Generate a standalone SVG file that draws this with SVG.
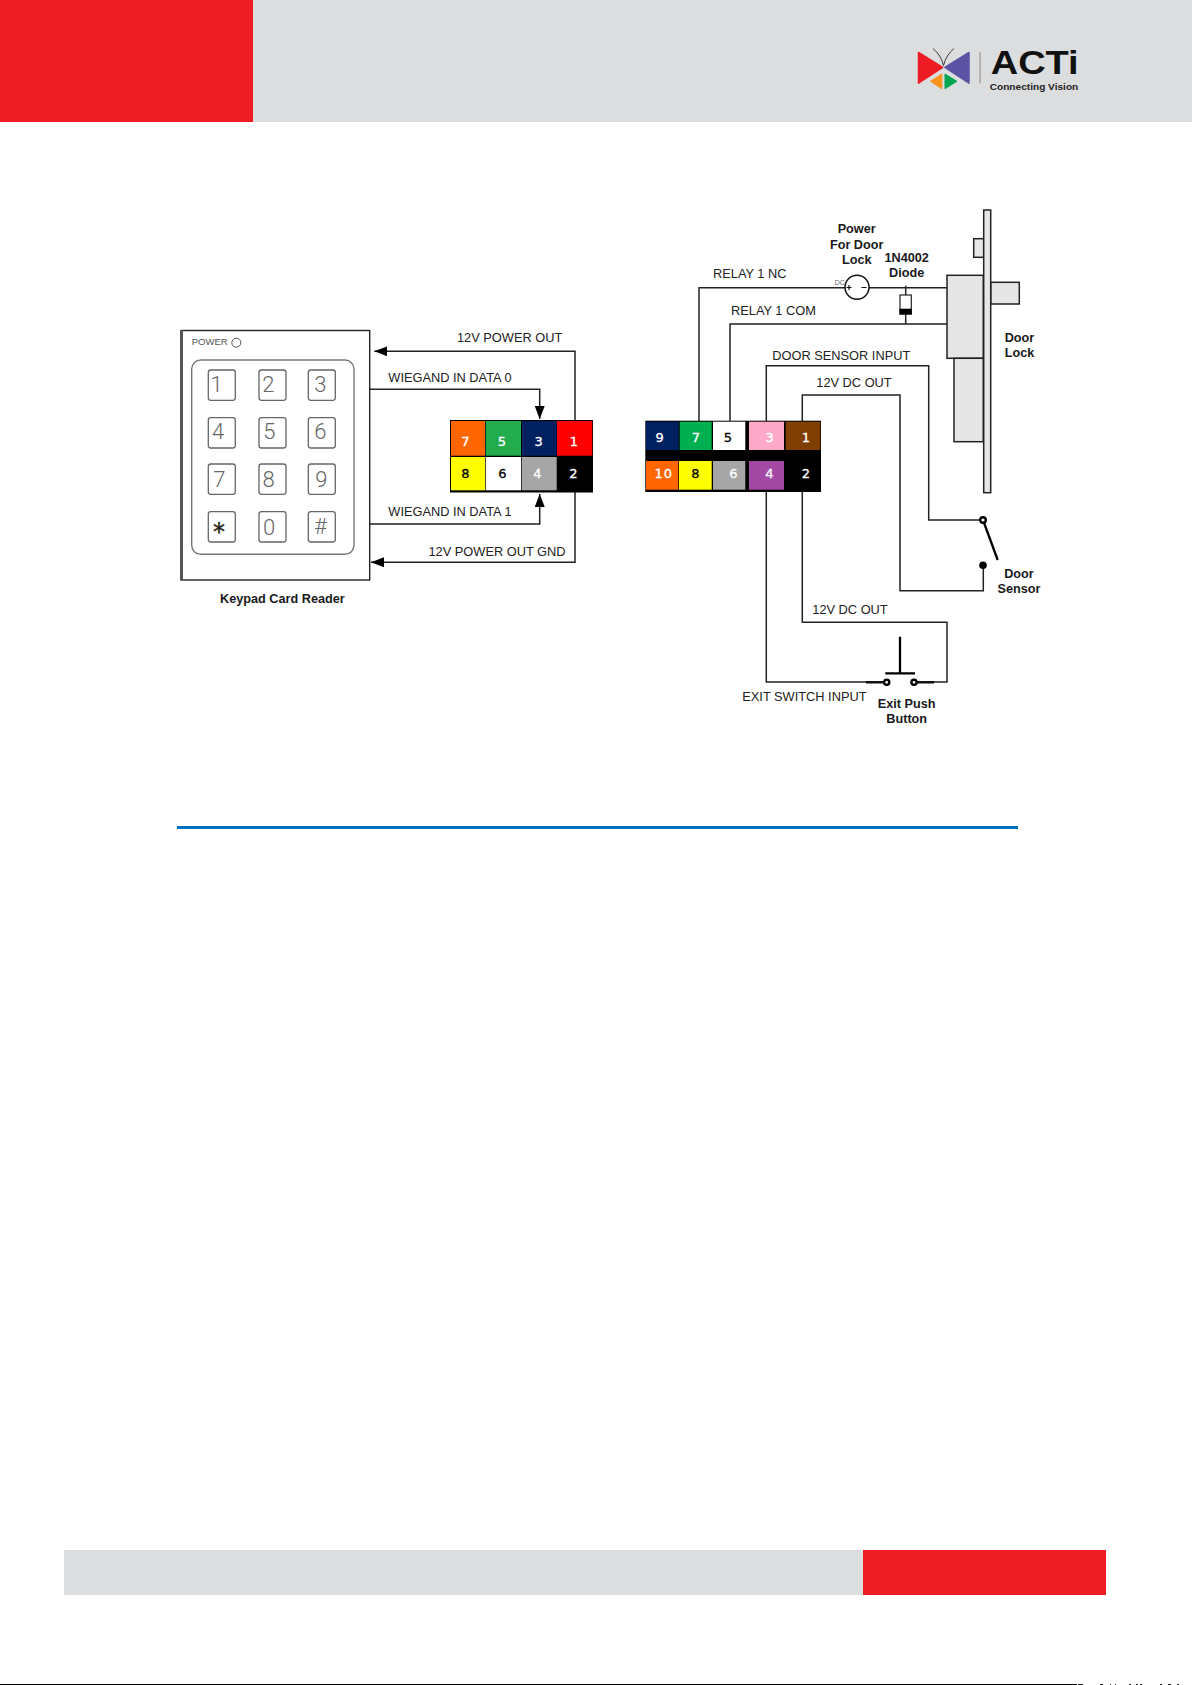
<svg xmlns="http://www.w3.org/2000/svg" width="1192" height="1685" viewBox="0 0 1192 1685">
<style>
text{font-family:"Liberation Sans",Arial,sans-serif;fill:#1a1a1a}
.l{font-size:12.8px;fill:#222}
.b{font-size:12.7px;font-weight:bold;text-anchor:middle}
.bl{font-size:12.7px;font-weight:bold}
.n{font-family:"DejaVu Sans",sans-serif;font-size:13px;text-anchor:middle;stroke-width:.3}
.nw{fill:#fff;stroke:#fff}
.nk{fill:#000;stroke:#000}
.k{font-family:Roboto,"Liberation Sans",sans-serif;font-weight:300;font-size:22px;fill:#666;text-anchor:middle}
.key{fill:#fff;stroke:#666;stroke-width:1.3}
.w{fill:none;stroke:#222;stroke-width:1.5}
.t{fill:none;stroke:#111;stroke-width:2.4}
.lock{fill:#e6e6e6;stroke:#222;stroke-width:1.5}
.term{fill:#fff;stroke:#000;stroke-width:2.4}
</style>
<defs>
<marker id="arrow" markerUnits="userSpaceOnUse" markerWidth="14" markerHeight="10" refX="13" refY="5" orient="auto"><path d="M0 0L13 5L0 10Z" fill="#000"/></marker>
</defs>

<g id="page-header">
<rect x="0" y="0" width="1192" height="122" fill="#dcddde"/>
<rect x="0" y="0" width="253" height="122" fill="#ee1c25"/>
</g>
<g id="logo">
<path d="M918.5 52.5L942.7 67.3L918.5 83.2Z" fill="#ed1c24" stroke="#ed1c24" stroke-width="1.5" stroke-linejoin="round"/>
<path d="M969 52.5L944.9 67.3L969 83.2Z" fill="#5b52a3" stroke="#5b52a3" stroke-width="1.5" stroke-linejoin="round"/>
<path d="M941.8 74L930.5 81.3L941.8 88.8Z" fill="#f7941e" stroke="#f7941e" stroke-width="1" stroke-linejoin="round"/>
<path d="M945 74L956.8 81.3L945 88.8Z" fill="#00a651" stroke="#00a651" stroke-width="1" stroke-linejoin="round"/>
<path d="M933 48.5Q941 55 943.5 65.5Q946 55 954 48.5" fill="none" stroke="#111" stroke-width=".8"/>
<rect x="979.6" y="52.3" width="1" height="31" fill="#8a8a8a"/>
<text x="990.7" y="74.3" font-size="32.5" font-weight="bold" textLength="88" lengthAdjust="spacingAndGlyphs" style="fill:#111">ACTi</text>
<text x="989.7" y="89.8" font-size="9.5" font-weight="bold" textLength="88.6" lengthAdjust="spacingAndGlyphs" style="fill:#222">Connecting Vision</text>
</g>

<g id="connectors">
<path class="w" d="M575 420V351.3H374.3" marker-end="url(#arrow)"/>
<path class="w" d="M369.7 389.3H539.7V419" marker-end="url(#arrow)"/>
<path class="w" d="M369.7 524H539.7V494" marker-end="url(#arrow)"/>
<path class="w" d="M575 492V562.3H371" marker-end="url(#arrow)"/>
<path class="w" d="M699 421V287.7H947"/>
<path class="w" d="M730 421V324H947"/>
<path class="w" d="M905.7 285.7V324"/>
<path class="w" d="M766.3 421V365.7H928.7V520H983"/>
<path class="w" d="M802.3 421V395H900V590.7H983.3V565"/>
<path class="w" d="M766.3 491V682H868"/>
<path class="w" d="M802.3 491V622.3H947V682H932"/>
<path class="t" d="M866 682.3H884M916 682.3H934"/>
</g>

<g id="keypad">
<rect x="181" y="330.5" width="188.7" height="249.5" fill="#fff" stroke="#222" stroke-width="1.4"/>
<rect x="180" y="330" width="3" height="250" fill="#555"/>
<text x="191.7" y="345.2" font-size="9.5" style="fill:#555">POWER</text>
<circle cx="236.3" cy="342.7" r="4.5" fill="#fff" stroke="#555" stroke-width="1"/>
<rect x="191.7" y="360" width="162.3" height="194.3" rx="9" fill="#fff" stroke="#777" stroke-width="1.4"/>
<rect class="key" x="208.3" y="370" width="27" height="30.3" rx="2.5"/><text class="k" x="216.7" y="391.7">1</text>
<rect class="key" x="259" y="370" width="27" height="30.3" rx="2.5"/><text class="k" x="268.3" y="391.7">2</text>
<rect class="key" x="308.3" y="370" width="27" height="30.3" rx="2.5"/><text class="k" x="320.3" y="391.7">3</text>
<rect class="key" x="208.3" y="417.7" width="27" height="30.3" rx="2.5"/><text class="k" x="218" y="439.3">4</text>
<rect class="key" x="259" y="417.7" width="27" height="30.3" rx="2.5"/><text class="k" x="269.3" y="439.3">5</text>
<rect class="key" x="308.3" y="417.7" width="27" height="30.3" rx="2.5"/><text class="k" x="320.3" y="439.3">6</text>
<rect class="key" x="208.3" y="464" width="27" height="30.3" rx="2.5"/><text class="k" x="219.3" y="486.7">7</text>
<rect class="key" x="259" y="464" width="27" height="30.3" rx="2.5"/><text class="k" x="268.7" y="486.7">8</text>
<rect class="key" x="308.3" y="464" width="27" height="30.3" rx="2.5"/><text class="k" x="321.3" y="486.7">9</text>
<rect class="key" x="208.3" y="511.7" width="27" height="30.3" rx="2.5"/><text x="219" y="540" font-size="24" text-anchor="middle" style="font-family:'DejaVu Sans',sans-serif;fill:#222;stroke:#222;stroke-width:.4">*</text>
<rect class="key" x="259" y="511.7" width="27" height="30.3" rx="2.5"/><text class="k" x="269" y="535.3">0</text>
<rect class="key" x="308.3" y="511.7" width="27" height="30.3" rx="2.5"/><text class="k" x="320.3" y="534" style="font-size:22px">#</text>
<text class="bl" x="220" y="602.7">Keypad Card Reader</text>
</g>

<g id="connector-left">
<rect x="450" y="420" width="143" height="72.5" fill="#000"/>
<rect x="451" y="421" width="34" height="34.7" fill="#ff6600"/><text class="n nw" x="465.3" y="446">7</text>
<rect x="485.7" y="421" width="35.3" height="34.7" fill="#22ac4e"/><text class="n nw" x="502" y="446">5</text>
<rect x="521.7" y="421" width="35" height="34.7" fill="#002060"/><text class="n nw" x="538.7" y="446">3</text>
<rect x="557" y="421" width="35.3" height="34.7" fill="#ff0000"/><text class="n nw" x="574" y="446">1</text>
<rect x="451" y="457" width="34" height="33.3" fill="#ffff00"/><text class="n nk" x="465.3" y="478">8</text>
<rect x="485.7" y="457" width="35.3" height="33.3" fill="#fff"/><text class="n nk" x="502.5" y="478">6</text>
<rect x="521.7" y="457" width="35" height="33.3" fill="#a6a6a6"/><text class="n nw" x="537.3" y="478">4</text>
<text class="n nw" x="573.5" y="478">2</text>
</g>

<g id="connector-right">
<rect x="645.3" y="420.7" width="175.7" height="71.3" fill="#000"/>
<rect x="646" y="421.7" width="32.7" height="28.3" fill="#002060"/><text class="n nw" x="659.7" y="441.7">9</text>
<rect x="679.7" y="421.7" width="32" height="28.3" fill="#00b050"/><text class="n nw" x="696" y="441.7">7</text>
<rect x="713" y="421.7" width="32.3" height="28.3" fill="#fff"/><text class="n nk" x="728" y="441.7">5</text>
<rect x="749" y="421.7" width="35" height="28.3" fill="#ffa9c8"/><text class="n nw" x="769.7" y="441.7">3</text>
<rect x="785.7" y="421.7" width="34.6" height="28.3" fill="#7f3f00"/><text class="n nw" x="806" y="441.7">1</text>
<rect x="646" y="461" width="32.3" height="28.7" fill="#ff6600"/><text class="n nw" x="663.7" y="478.3" style="letter-spacing:1px">10</text>
<rect x="679" y="461" width="32.7" height="28.7" fill="#ffff00"/><text class="n nk" x="695.3" y="478.3">8</text>
<rect x="713" y="461" width="32.3" height="28.7" fill="#a6a6a6"/><text class="n nw" x="733.3" y="478.3">6</text>
<rect x="749" y="461" width="35" height="28.7" fill="#a349a4"/><text class="n nw" x="769.3" y="478.3">4</text>
<text class="n nw" x="806" y="478.3">2</text>
</g>

<g id="power-supply">
<circle cx="857" cy="287.3" r="12" fill="#fff" stroke="#111" stroke-width="1.5"/>
<path d="M846.5 287.5h5M849 285v5M861.5 287.5h5" stroke="#111" stroke-width="1.2" fill="none"/>
<text x="834.7" y="284.7" font-size="7" style="fill:#666">DC</text>
<text class="b" x="856.7" y="233.3">Power</text>
<text class="b" x="856.7" y="248.7">For Door</text>
<text class="b" x="856.7" y="264">Lock</text>
</g>

<g id="diode">
<rect x="900" y="295" width="11.3" height="19" fill="#fff" stroke="#222" stroke-width="1.2"/>
<rect x="899.5" y="308.7" width="12.3" height="5.8" fill="#000"/>
<text class="b" x="906.7" y="262">1N4002</text>
<text class="b" x="906.7" y="277.3">Diode</text>
</g>

<g id="door-lock">
<rect class="lock" x="973.7" y="238.7" width="10" height="18.6"/>
<rect class="lock" x="990.7" y="282.3" width="28.6" height="21.7"/>
<rect class="lock" x="947" y="275.3" width="36.3" height="83"/>
<rect class="lock" x="954" y="358.3" width="29.3" height="83.4"/>
<rect class="lock" x="983.7" y="210" width="7" height="282.7"/>
<text class="bl" x="1004.7" y="342">Door</text>
<text class="bl" x="1004.7" y="357.3">Lock</text>
</g>

<g id="door-sensor">
<path d="M983 520L997.7 560" stroke="#000" stroke-width="2.3" fill="none"/>
<circle class="term" cx="983" cy="520" r="2.8"/>
<circle cx="983" cy="565.3" r="3.8" fill="#000"/>
<text class="b" x="1019" y="577.7">Door</text>
<text class="b" x="1019" y="592.7">Sensor</text>
</g>

<g id="exit-button">
<path d="M900 636.7V673.3M885.3 673.3H915" stroke="#000" stroke-width="2.3" fill="none"/>
<circle class="term" cx="886.7" cy="682.3" r="2.6"/>
<circle class="term" cx="914" cy="682.3" r="2.6"/>
<text class="b" x="906.7" y="707.7">Exit Push</text>
<text class="b" x="906.7" y="722.7">Button</text>
</g>

<g id="wire-labels">
<text class="l" x="457" y="341.8">12V POWER OUT</text>
<text class="l" x="388.3" y="381.8">WIEGAND IN DATA 0</text>
<text class="l" x="388.3" y="516.2">WIEGAND IN DATA 1</text>
<text class="l" x="428.5" y="555.8">12V POWER OUT GND</text>
<text class="l" x="713" y="278.2">RELAY 1 NC</text>
<text class="l" x="731" y="314.5">RELAY 1 COM</text>
<text class="l" x="772.3" y="360.2">DOOR SENSOR INPUT</text>
<text class="l" x="816.3" y="387.2">12V DC OUT</text>
<text class="l" x="812.3" y="613.8">12V DC OUT</text>
<text class="l" x="742.3" y="700.5">EXIT SWITCH INPUT</text>
</g>

<rect id="divider" x="177" y="826" width="841" height="3" fill="#0070c0"/>

<g id="page-footer">
<rect x="64" y="1550" width="799" height="45" fill="#dcddde"/>
<rect x="863" y="1550" width="243" height="45" fill="#ee1c25"/>
<rect x="0" y="1684" width="1077" height="1" fill="#000"/>
<path d="M1078 1684.5h5M1100 1684.5h3M1110 1684.5h1M1115 1684.5h1M1129 1684.5h2M1136 1684.5h2M1140 1684.5h2M1160 1684.5h2M1168 1684.5h3M1177 1684.5h2" stroke="#222" stroke-width="1" fill="none"/>
</g>
</svg>
